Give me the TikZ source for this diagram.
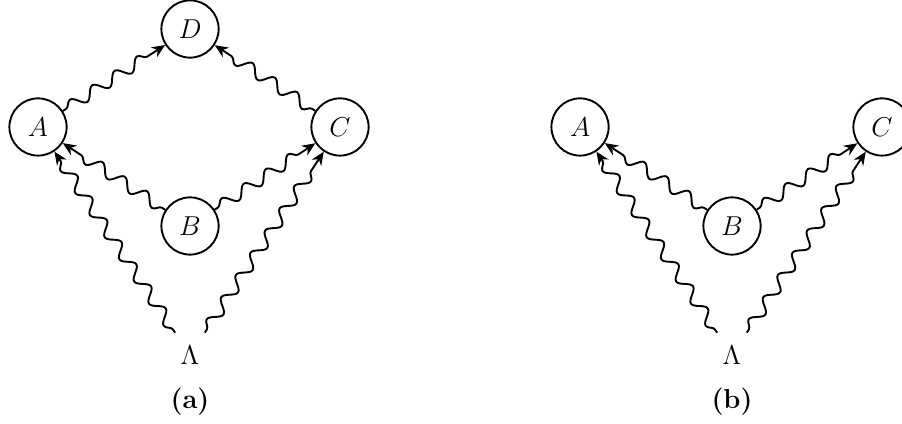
\documentclass[tikz,border=0pt]{standalone}
\usepackage{amsmath}
\usepackage{tikz}
\usetikzlibrary{arrows.meta, decorations.pathmorphing}
\tikzset{
  vertex/.style={circle, draw, line width=1pt, minimum size=1.06cm, inner sep=0pt, font=\Large},
  source/.style={circle, minimum size=0.98cm, inner sep=0pt, font=\Large},
  wave/.style={-{Stealth[length=7pt, width=6pt]}, line width=1pt, decorate,
    decoration={snake, segment length=14pt, amplitude=3pt, pre length=2pt, post length=5pt}}
}

\begin{document}
\begin{tikzpicture}
			\useasboundingbox (0, 0) rectangle (16.70, -7.832);
			% Panel (a): nodes
			\node[vertex](D) at (3.518, -0.537){$D$};
			\node[vertex](A) at (0.704, -2.351){$A$};
			\node[vertex](C) at (6.295, -2.351){$C$};
			\node[vertex](B) at (3.518, -4.184){$B$};
			\node[source](L) at (3.518, -6.573){$\Lambda$};
			\node[font=\Large](capA) at (3.518, -7.443){\textbf{(a)}};
			% Panel (a): wiggly arrows
			\draw[wave] (A) -- (D);
			\draw[wave] (C) -- (D);
			\draw[wave] (B) -- (A);
			\draw[wave] (B) -- (C);
			\draw[wave] (L) -- (A);
			\draw[wave] (L) -- (C);
			% Panel (b): nodes
			\node[vertex](A2) at (10.739, -2.351){$A$};
			\node[vertex](C2) at (16.330, -2.351){$C$};
			\node[vertex](B2) at (13.553, -4.184){$B$};
			\node[source](L2) at (13.553, -6.573){$\Lambda$};
			\node[font=\Large](capB) at (13.553, -7.443){\textbf{(b)}};
			% Panel (b): wiggly arrows
			\draw[wave] (B2) -- (A2);
			\draw[wave] (B2) -- (C2);
			\draw[wave] (L2) -- (A2);
			\draw[wave] (L2) -- (C2);
		\end{tikzpicture}
\end{document}
